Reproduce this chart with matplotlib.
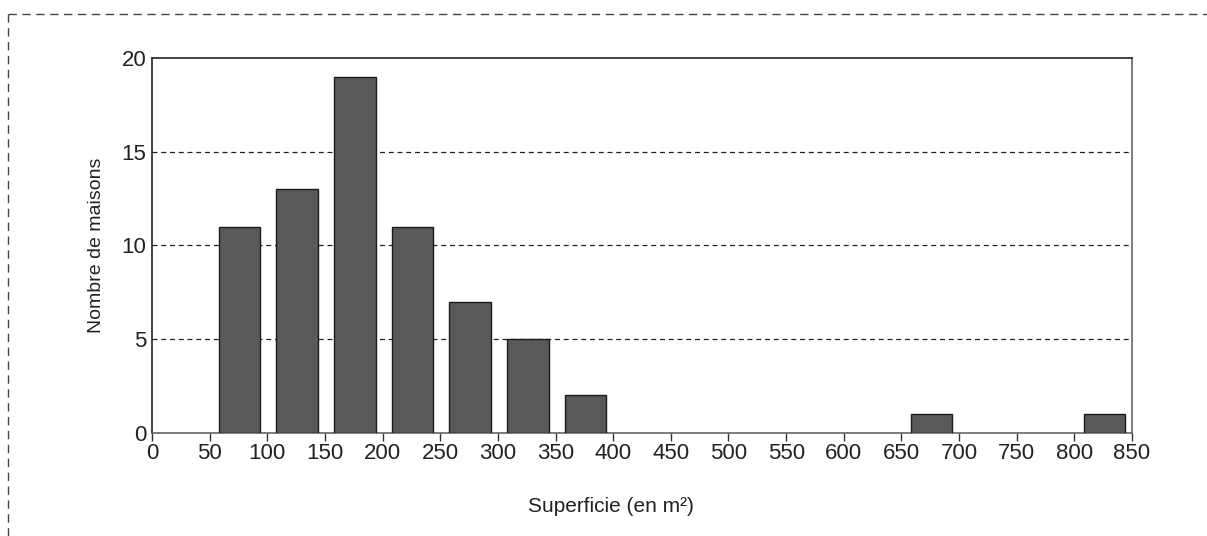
import matplotlib.pyplot as plt
from matplotlib.lines import Line2D

plt.rcParams['font.family'] = ['Liberation Sans', 'DejaVu Sans']

# classes de superficie (début de classe, en m2) et effectifs
classes = [50, 100, 150, 200, 250, 300, 350, 650, 800]
effectifs = [11, 13, 19, 11, 7, 5, 2, 1, 1]
graduations_x = list(range(0, 851, 50))
graduations_y = [0, 5, 10, 15, 20]

fig = plt.figure(figsize=(12.07, 5.36), dpi=100)
ax = fig.add_axes([0.1259, 0.1922, 0.812, 0.6996])

# barres décalées dans chaque classe, comme sur l'original
ax.bar([c + 8 for c in classes], effectifs, width=36, align='edge',
       color='#58595b', edgecolor='#1a1a1a', linewidth=1, zorder=3)

for y in graduations_y[1:-1]:
    ax.axhline(y, color='#222222', linestyle=(0, (4, 3)), linewidth=0.9, zorder=1)

ax.set_xlim(0, 850)
ax.set_ylim(0, 20)
ax.set_xticks(graduations_x)
ax.set_yticks(graduations_y)
ax.tick_params(axis='x', direction='out', length=6, width=1, colors='#333333',
               labelsize=16, labelcolor='#222222', pad=1)
ax.tick_params(axis='y', length=0, labelsize=16, labelcolor='#222222', pad=4)

ax.spines['left'].set_color('#222222')
ax.spines['top'].set_color('#222222')
ax.spines['right'].set_color('#666666')
ax.spines['bottom'].set_color('#666666')
for s in ax.spines.values():
    s.set_linewidth(1.2)

ax.set_xlabel('Superficie (en m²)', fontsize=15, color='#222222', labelpad=24)
ax.xaxis.label.set_x(0.468)
ax.set_ylabel('Nombre de maisons', fontsize=14, color='#222222', labelpad=12)

# cadre pointillé autour de la figure (haut et gauche visibles)
fig.add_artist(Line2D([8 / 1207, 8 / 1207], [0, 1 - 14 / 536], transform=fig.transFigure,
                      color='#444444', linestyle=(0, (6, 4)), linewidth=1))
fig.add_artist(Line2D([8 / 1207, 1], [1 - 14 / 536, 1 - 14 / 536], transform=fig.transFigure,
                      color='#444444', linestyle=(0, (6, 4)), linewidth=1))

fig.savefig('out.png', dpi=100)
